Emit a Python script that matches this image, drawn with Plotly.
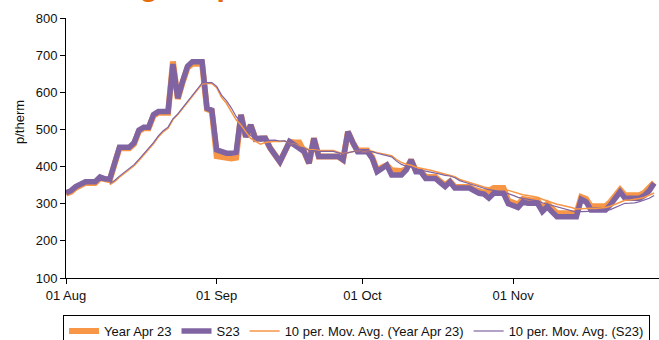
import pandas as pd
import plotly.graph_objects as go

start_date = "2022-08-01"
n_days = 122
dates = pd.date_range(start_date, periods=n_days, freq="D")

s23 = [330, 335, 346, 352, 359, 359, 359, 372, 367, 366,
       410, 452, 452, 452, 464, 498, 506, 506, 540, 548,
       548, 548, 676, 584, 630, 670, 682, 682, 682, 557,
       552, 445, 440, 436, 436, 438, 539, 480, 512, 474,
       476, 476, 450, 430, 413, 440, 467, 458, 450, 440,
       409, 476, 427, 427, 427, 427, 427, 418, 494, 465,
       440, 440, 440, 422, 386, 395, 404, 377, 377, 377,
       391, 418, 386, 386, 368, 368, 368, 357, 346, 359,
       342, 342, 342, 342, 335, 328, 326, 315, 328, 328,
       328, 300, 294, 290, 305, 301, 301, 301, 279, 292,
       278, 265, 265, 265, 265, 265, 312, 305, 283, 283,
       283, 283, 297, 318, 332, 315, 315, 315, 315, 322,
       335, 355]

year_apr23 = [327, 332, 343, 349, 356, 356, 356, 369, 364, 363,
              407, 449, 449, 449, 461, 495, 503, 503, 537, 545,
              545, 545, 683, 582, 627, 666, 677, 677, 677, 555,
              550, 428, 425, 422, 422, 424, 539, 480, 512, 474,
              476, 476, 450, 430, 413, 440, 467, 465, 465, 440,
              409, 476, 427, 427, 427, 427, 427, 418, 494, 465,
              443, 443, 443, 425, 390, 398, 404, 390, 388, 388,
              393, 418, 388, 388, 372, 372, 372, 360, 350, 360,
              345, 345, 345, 345, 338, 332, 330, 335, 342, 342,
              342, 308, 302, 298, 313, 309, 309, 309, 287, 300,
              286, 274, 274, 274, 274, 274, 318, 313, 293, 293,
              293, 293, 305, 324, 338, 323, 323, 323, 323, 330,
              343, 357]

ma_window = 10
ma_year = pd.Series(year_apr23).rolling(ma_window).mean()
ma_s23 = pd.Series(s23).rolling(ma_window).mean()

x_ticks = ["2022-08-01", "2022-09-01", "2022-10-01", "2022-11-01"]
x_tick_labels = ["01 Aug", "01 Sep", "01 Oct", "01 Nov"]

ORANGE = "#F79646"
PURPLE = "#8064A2"
FONT = "Liberation Sans, Arial, sans-serif"

fig = go.Figure()
fig.add_trace(go.Scatter(x=dates, y=year_apr23, mode="lines", name="Year Apr 23",
                         line=dict(color=ORANGE, width=6)))
fig.add_trace(go.Scatter(x=dates, y=s23, mode="lines", name="S23",
                         line=dict(color=PURPLE, width=5.5)))
fig.add_trace(go.Scatter(x=dates, y=ma_year, mode="lines",
                         name="10 per. Mov. Avg. (Year Apr 23)",
                         line=dict(color=ORANGE, width=1.5)))
fig.add_trace(go.Scatter(x=dates, y=ma_s23, mode="lines",
                         name="10 per. Mov. Avg. (S23)",
                         line=dict(color=PURPLE, width=1.2)))

fig.update_layout(
    width=659, height=340,
    margin=dict(l=66, r=0, t=18, b=62, autoexpand=False),
    paper_bgcolor="white", plot_bgcolor="white",
    font=dict(family=FONT, size=13, color="#111111"),
    showlegend=True,
    legend=dict(orientation="h", x=-0.005, xanchor="left", y=-0.1425, yanchor="top",
                bordercolor="#000000", borderwidth=1,
                font=dict(family=FONT, size=13, color="#111111"),
                itemwidth=30, tracegroupgap=0),
)
fig.update_xaxes(
    type="date", range=["2022-08-01", "2022-12-01"],
    tickvals=x_ticks, ticktext=x_tick_labels,
    showline=True, linecolor="#000000", linewidth=1,
    ticks="outside", ticklen=5, tickcolor="#000000",
    showgrid=False, zeroline=False, automargin=False,
)
fig.update_yaxes(
    range=[100, 800], dtick=100,
    showline=True, linecolor="#000000", linewidth=1,
    ticks="outside", ticklen=5, tickcolor="#000000",
    showgrid=False, zeroline=False, automargin=False,
)
fig.add_annotation(text="p/therm", textangle=-90, xref="paper", yref="paper",
                   x=-0.0793, y=0.6, xanchor="center", yanchor="middle", showarrow=False,
                   font=dict(family=FONT, size=13, color="#111111"))
fig.add_annotation(text="<b>UK gas spot</b>", xref="paper", yref="paper",
                   x=0.036, y=1.0595, xanchor="left", yanchor="bottom", showarrow=False,
                   borderpad=0,
                   font=dict(family=FONT, size=30, color="#E46C0A"))

fig.write_html("out.html", config={"displayModeBar": False},
               post_script="document.body.style.margin='0px';")
